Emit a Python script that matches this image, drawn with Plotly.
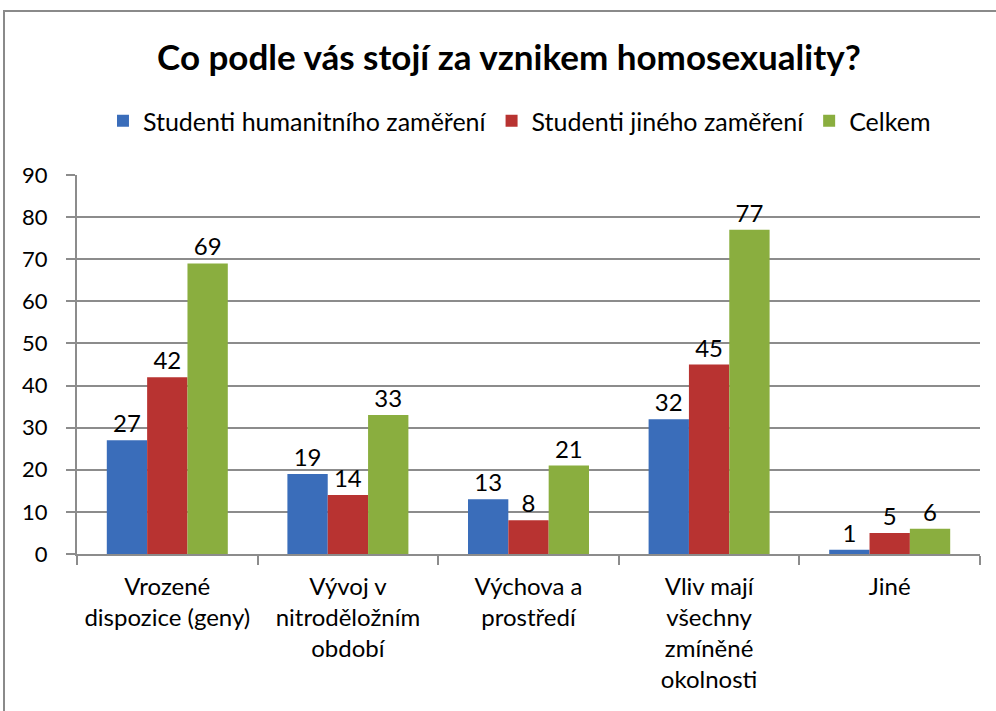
import plotly.graph_objects as go

categories = ["Vrozené<br>dispozice (geny)", "Vývoj v<br>nitroděložním<br>období",
              "Výchova a<br>prostředí", "Vliv mají<br>všechny<br>zmíněné<br>okolnosti", "Jiné"]
series_names = ["Studenti humanitního zaměření", "Studenti jiného zaměření", "Celkem"]
humanitni = [27, 19, 13, 32, 1]
jine = [42, 14, 8, 45, 5]
celkem = [69, 33, 21, 77, 6]
colors = ["#3A6DBA", "#B83331", "#8AAE3F"]
y_ticks = [0, 10, 20, 30, 40, 50, 60, 70, 80, 90]

FONT = "Lato"
fig = go.Figure()
for name, vals, col in zip(series_names, [humanitni, jine, celkem], colors):
    fig.add_trace(go.Bar(
        x=categories, y=vals, name=name, marker=dict(color=col, line=dict(width=0)),
        text=[str(v) for v in vals], textposition="outside", cliponaxis=False,
        textfont=dict(size=24, color="black", family=FONT),
    ))

L, R, T, B = 77, 16, 175, 157
W, H = 996, 711
pw, ph = W - L - R, H - T - B
bx = (4 - L) / pw
by = (H - B - 11) / ph

fig.update_layout(
    width=W, height=H, barmode="group", bargap=0.33, bargroupgap=0,
    margin=dict(l=L, r=R, t=T, b=B),
    paper_bgcolor="white", plot_bgcolor="white",
    font=dict(family=FONT, size=22, color="black"),
    title=dict(text="<b>Co podle vás stojí za vznikem homosexuality?</b>",
               x=0.511, xanchor="center", y=1 - 58 / H, yanchor="middle",
               font=dict(size=35, family=FONT, color="black")),
    legend=dict(orientation="h", x=0.49, xanchor="center", y=(H - B - 121) / ph, yanchor="middle",
                font=dict(size=25, family=FONT), itemwidth=30, traceorder="normal"),
    xaxis=dict(showline=True, linecolor="#8c8c8c", linewidth=2, tickson="boundaries",
               ticks="outside", ticklen=9, tickcolor="#8c8c8c", tickwidth=2,
               ticklabelstandoff=10,
               tickfont=dict(size=24, family=FONT), showgrid=False),
    yaxis=dict(range=[0, 90], tickvals=y_ticks, showline=True, linecolor="#8c8c8c", linewidth=2,
               ticks="outside", ticklen=9, tickcolor="#8c8c8c", tickwidth=2,
               ticklabelstandoff=14,
               showgrid=True, gridcolor="#8c8c8c", gridwidth=1.5,
               tickfont=dict(size=22, family=FONT), zeroline=False),
    shapes=[dict(type="rect", xref="paper", yref="paper", x0=bx, x1=1.5, y0=-1, y1=by,
                 line=dict(color="#8a8a8a", width=2), layer="below")],
)
fig.write_html("out.html", config={"displayModeBar": False},
               post_script="document.body.style.margin='0';")
